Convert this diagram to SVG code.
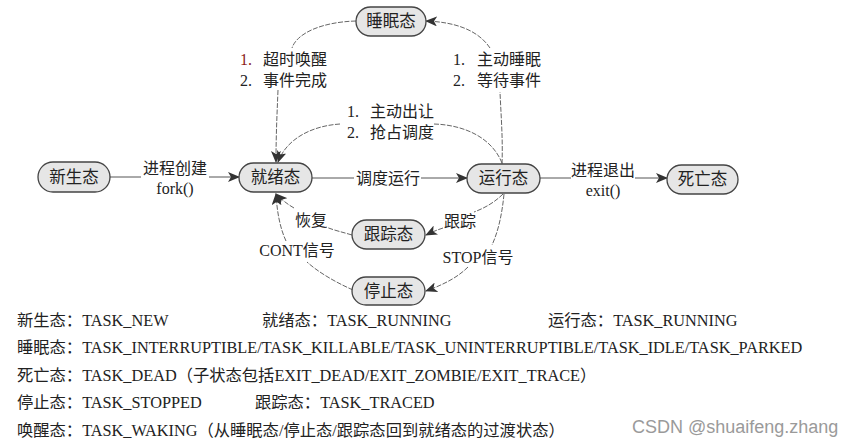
<svg xmlns="http://www.w3.org/2000/svg" width="860" height="447" viewBox="0 0 860 447">
<defs>
<marker id="arr" markerUnits="userSpaceOnUse" markerWidth="12" markerHeight="10" refX="11" refY="5" orient="auto">
<path d="M0,0 L12,5 L0,10 L3,5 Z" fill="#333"/>
</marker>
</defs>
<style>
text{font-family:"Liberation Serif","Noto Sans CJK SC",serif;fill:#222}
.node rect{fill:#e6e6e6;stroke:#444;stroke-width:1.3}
.node text{font-size:16.5px;text-anchor:middle}
.lbl{font-size:16px}
.lblc{font-size:16px;text-anchor:middle}
.body{font-size:16.3px}
.edge{fill:none;stroke:#555;stroke-width:1}
.curve{fill:none;stroke:#666;stroke-width:1;stroke-dasharray:5 1.5}
.wm{font-family:"Liberation Sans","Noto Sans",sans-serif;font-size:18px;fill:#9a9a9a}
</style>
<rect width="860" height="447" fill="#fff"/>

<g id="connectors">
<path class="edge" d="M110,177 H141"/>
<path class="edge" d="M209,177 H239" marker-end="url(#arr)"/>
<path class="edge" d="M312,178 H354"/>
<path class="edge" d="M421,178 H467" marker-end="url(#arr)"/>
<path class="edge" d="M540,178 H571"/>
<path class="edge" d="M635,178 H667" marker-end="url(#arr)"/>
<path class="curve" d="M356,21 C322,22 297,33 292,48"/>
<path class="curve" d="M278,90 C277,115 276,135 276,162" marker-end="url(#arr)"/>
<path class="curve" d="M502,164 C503,140 501,115 500,92"/>
<path class="curve" d="M490,48 C478,30 455,22 426,21" marker-end="url(#arr)"/>
<path class="curve" d="M502,163 C492,138 465,125 434,124"/>
<path class="curve" d="M340,124 C310,126 286,140 278,162" marker-end="url(#arr)"/>
<path class="curve" d="M503,194 C495,202 485,208 474,212"/>
<path class="curve" d="M443,228 C437,230 432,232 426,235" marker-end="url(#arr)"/>
<path class="curve" d="M352,235 C342,232 333,230 326,227"/>
<path class="curve" d="M294,208 C287,204 281,199 276,194" marker-end="url(#arr)"/>
<path class="curve" d="M504,194 C502,215 498,232 492,245"/>
<path class="curve" d="M468,267 C458,277 445,284 426,291" marker-end="url(#arr)"/>
<path class="curve" d="M353,290 C335,282 318,272 307,262"/>
<path class="curve" d="M286,241 C280,228 277,212 276,194" marker-end="url(#arr)"/>
</g>

<g id="edge-labels">
<text class="lbl" x="240" y="65"><tspan fill="#8b1a1a">1.</tspan><tspan x="263">超时唤醒</tspan></text>
<text class="lbl" x="240" y="86">2.<tspan x="263">事件完成</tspan></text>
<text class="lbl" x="453" y="65">1.<tspan x="477">主动睡眠</tspan></text>
<text class="lbl" x="453" y="86">2.<tspan x="477">等待事件</tspan></text>
<text class="lbl" x="347" y="117">1.<tspan x="370">主动出让</tspan></text>
<text class="lbl" x="347" y="138">2.<tspan x="370">抢占调度</tspan></text>
<text class="lblc" x="175" y="174">进程创建</text>
<text class="lblc" x="175" y="194">fork()</text>
<text class="lblc" x="388" y="184">调度运行</text>
<text class="lblc" x="603" y="176">进程退出</text>
<text class="lblc" x="603" y="196">exit()</text>
<text class="lblc" x="311" y="226">恢复</text>
<text class="lblc" x="297" y="256">CONT信号</text>
<text class="lblc" x="460" y="227">跟踪</text>
<text class="lblc" x="478" y="263">STOP信号</text>
</g>

<g id="node-sleep" class="node"><rect x="356" y="7" width="70" height="29" rx="14.5"/><text x="391" y="27">睡眠态</text></g>
<g id="node-new" class="node"><rect x="38" y="162" width="72" height="30" rx="15"/><text x="74" y="183">新生态</text></g>
<g id="node-ready" class="node"><rect x="239" y="163" width="73" height="29" rx="14.5"/><text x="275.5" y="183">就绪态</text></g>
<g id="node-running" class="node"><rect x="467" y="164" width="73" height="29" rx="14.5"/><text x="503.5" y="184">运行态</text></g>
<g id="node-dead" class="node"><rect x="667" y="165" width="71" height="29" rx="14.5"/><text x="702.5" y="185">死亡态</text></g>
<g id="node-traced" class="node"><rect x="352" y="220" width="73" height="29" rx="14.5"/><text x="388.5" y="240">跟踪态</text></g>
<g id="node-stopped" class="node"><rect x="352" y="277" width="73" height="28" rx="14"/><text x="388.5" y="297">停止态</text></g>

<g id="legend">
<text class="body" x="17" y="326">新生态：TASK_NEW</text>
<text class="body" x="262" y="326">就绪态：TASK_RUNNING</text>
<text class="body" x="548" y="326">运行态：TASK_RUNNING</text>
<text class="body" x="17" y="353">睡眠态：TASK_INTERRUPTIBLE/TASK_KILLABLE/TASK_UNINTERRUPTIBLE/TASK_IDLE/TASK_PARKED</text>
<text class="body" x="17" y="381">死亡态：TASK_DEAD（子状态包括EXIT_DEAD/EXIT_ZOMBIE/EXIT_TRACE）</text>
<text class="body" x="17" y="408">停止态：TASK_STOPPED</text>
<text class="body" x="255" y="408">跟踪态：TASK_TRACED</text>
<text class="body" x="17" y="436">唤醒态：TASK_WAKING（从睡眠态/停止态/跟踪态回到就绪态的过渡状态）</text>
</g>

<text class="wm" x="632" y="433">CSDN @shuaifeng.zhang</text>
</svg>
